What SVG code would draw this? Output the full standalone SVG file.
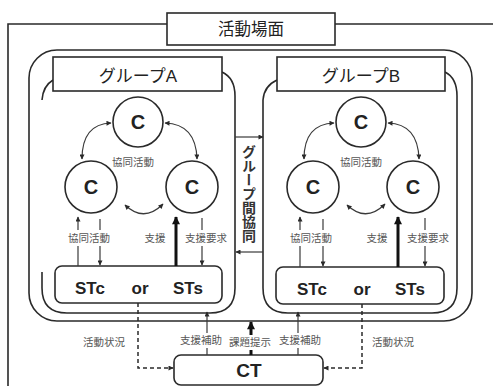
<svg xmlns="http://www.w3.org/2000/svg" width="493" height="386" viewBox="0 0 493 386">
<style>
.ln{fill:none;stroke:#2a2a2a;stroke-width:1.6}
.thin{fill:none;stroke:#3a3a3a;stroke-width:1.2}
.box{fill:#fff;stroke:#2a2a2a;stroke-width:1.6}
.dash{fill:none;stroke:#2a2a2a;stroke-width:1.5;stroke-dasharray:4 3}
.ttl{font-family:"Liberation Sans","Noto Sans CJK JP",sans-serif;fill:#222;text-anchor:middle}
.big{font-family:"Liberation Sans","Noto Sans CJK JP",sans-serif;font-weight:bold;fill:#222;text-anchor:middle}
.lbl{font-family:"Noto Sans CJK JP",sans-serif;font-size:10.5px;fill:#555;text-anchor:middle}
.bg{fill:#fff;stroke:none}
</style>
<defs>
<marker id="ah" viewBox="0 0 10 10" refX="9" refY="5" markerWidth="6" markerHeight="5" markerUnits="userSpaceOnUse" orient="auto-start-reverse"><path d="M0,0 L10,5 L0,10 z" fill="#2a2a2a"/></marker>
<marker id="ahb" viewBox="0 0 10 10" refX="9" refY="5" markerWidth="9" markerHeight="8" markerUnits="userSpaceOnUse" orient="auto-start-reverse"><path d="M0,0 L10,5 L0,10 z" fill="#111"/></marker>
</defs>

<g id="scene">
<path class="ln" d="M8 386 V24 H493"/>
<rect class="box" x="167" y="13" width="168" height="32"/>
<text class="ttl" x="251" y="35" font-size="16.5">活動場面</text>
</g>

<g id="groups-frame">
<rect class="ln" x="29" y="50" width="443" height="271" rx="28"/>
</g>

<g id="groupA">
<path class="ln" d="M53 80 Q43 86 42 100"/>
<path class="ln" d="M42 272 L42 288 Q42 313 67 313 L210 313 Q235 313 235 288 L235 96 Q235 78 222 72"/>
<rect class="box" x="53" y="57" width="169" height="34"/>
<text class="ttl" x="138" y="82" font-size="17">グループA</text>
</g>

<g id="groupB">
<path class="ln" d="M277 80 Q264 86 263 100 L263 288 Q263 313 288 313 L432 313 Q457 313 457 288 L457 96 Q457 78 445 72"/>
<rect class="box" x="277" y="57" width="168" height="34"/>
<text class="ttl" x="361" y="82" font-size="17">グループB</text>
</g>

<g id="groupA-members">
<g id="A-c-top"><circle class="ln" cx="138" cy="122" r="25"/><text class="big" x="138" y="129" font-size="20">C</text></g>
<g id="A-c-left"><circle class="ln" cx="91" cy="187" r="26"/><text class="big" x="91" y="194" font-size="20">C</text></g>
<g id="A-c-right"><circle class="ln" cx="192" cy="187" r="26"/><text class="big" x="192" y="194" font-size="20">C</text></g>
</g>

<g id="groupB-members">
<g id="B-c-top"><circle class="ln" cx="361" cy="122" r="25"/><text class="big" x="361" y="129" font-size="20">C</text></g>
<g id="B-c-left"><circle class="ln" cx="313" cy="187" r="26"/><text class="big" x="313" y="194" font-size="20">C</text></g>
<g id="B-c-right"><circle class="ln" cx="413" cy="187" r="26"/><text class="big" x="413" y="194" font-size="20">C</text></g>
</g>

<g id="A-st">
<rect class="box" x="55" y="266" width="167" height="37" rx="7"/>
<text class="big" x="90" y="294" font-size="17">STc</text>
<text class="big" x="140" y="294" font-size="17">or</text>
<text class="big" x="188" y="294" font-size="17">STs</text>
</g>

<g id="B-st">
<rect class="box" x="276" y="267" width="168" height="37" rx="7"/>
<text class="big" x="312" y="295" font-size="17">STc</text>
<text class="big" x="362" y="295" font-size="17">or</text>
<text class="big" x="410" y="295" font-size="17">STs</text>
</g>

<g id="CT">
<rect class="box" x="174" y="355" width="149" height="30" rx="7"/>
<text class="big" x="249" y="377" font-size="19">CT</text>
</g>

<g id="inter-group">
<text x="249" y="194" font-family="Noto Sans CJK JP, sans-serif" font-weight="bold" font-size="14" fill="#333" text-anchor="middle" style="writing-mode:vertical-rl">グループ間協同</text>
</g>

<g id="connectors">
<!-- inter-group arrows -->
<line class="thin" x1="235" y1="137" x2="263" y2="137" marker-end="url(#ah)"/>
<line class="thin" x1="263" y1="252" x2="236" y2="252" marker-end="url(#ah)"/>

<!-- group A internal -->
<path class="thin" d="M82 159 Q82 124 111 123" marker-start="url(#ah)" marker-end="url(#ah)"/>
<path class="thin" d="M165 123 Q196 124 197 159" marker-start="url(#ah)" marker-end="url(#ah)"/>
<path class="thin" d="M125 205 Q144 223 163 204" marker-start="url(#ah)" marker-end="url(#ah)"/>
<text class="lbl" x="133" y="166">協同活動</text>
<line class="thin" x1="78" y1="266" x2="78" y2="217" marker-end="url(#ah)"/>
<line class="thin" x1="100" y1="219" x2="100" y2="265" marker-end="url(#ah)"/>
<rect class="bg" x="66" y="230" width="46" height="16"/>
<text class="lbl" x="89" y="242">協同活動</text>
<line x1="176" y1="266" x2="176" y2="217" stroke="#111" stroke-width="3" marker-end="url(#ahb)"/>
<text class="lbl" x="155" y="242">支援</text>
<line class="thin" x1="202" y1="218" x2="202" y2="265" marker-end="url(#ah)"/>
<rect class="bg" x="184" y="230" width="44" height="16"/>
<text class="lbl" x="206" y="242">支援要求</text>

<!-- group B internal -->
<path class="thin" d="M304 159 Q304 124 334 123" marker-start="url(#ah)" marker-end="url(#ah)"/>
<path class="thin" d="M388 123 Q418 124 419 159" marker-start="url(#ah)" marker-end="url(#ah)"/>
<path class="thin" d="M347 205 Q366 223 385 204" marker-start="url(#ah)" marker-end="url(#ah)"/>
<text class="lbl" x="361" y="166">協同活動</text>
<line class="thin" x1="300" y1="267" x2="300" y2="217" marker-end="url(#ah)"/>
<line class="thin" x1="323" y1="219" x2="323" y2="266" marker-end="url(#ah)"/>
<rect class="bg" x="288" y="230" width="46" height="16"/>
<text class="lbl" x="311" y="242">協同活動</text>
<line x1="398" y1="267" x2="398" y2="217" stroke="#111" stroke-width="3" marker-end="url(#ahb)"/>
<text class="lbl" x="377" y="242">支援</text>
<line class="thin" x1="425" y1="218" x2="425" y2="266" marker-end="url(#ah)"/>
<rect class="bg" x="406" y="230" width="44" height="16"/>
<text class="lbl" x="428" y="242">支援要求</text>

<!-- CT connections -->
<path class="dash" d="M138 303 V368 H173" marker-end="url(#ah)"/>
<path class="dash" d="M362 304 V368 H324" marker-end="url(#ah)"/>
<text class="lbl" x="104" y="346">活動状況</text>
<text class="lbl" x="393" y="346">活動状況</text>
<line class="thin" x1="207" y1="355" x2="207" y2="312" marker-end="url(#ah)"/>
<line class="thin" x1="298" y1="355" x2="298" y2="312" marker-end="url(#ah)"/>
<line x1="251" y1="355" x2="251" y2="322" stroke="#111" stroke-width="3" marker-end="url(#ahb)"/>
<rect class="bg" x="179" y="333" width="44" height="15"/>
<text class="lbl" x="201" y="344">支援補助</text>
<rect class="bg" x="277" y="333" width="44" height="15"/>
<text class="lbl" x="300" y="344">支援補助</text>
<rect class="bg" x="228" y="335" width="45" height="15"/>
<text class="lbl" x="250" y="346">課題提示</text>
</g>
</svg>
